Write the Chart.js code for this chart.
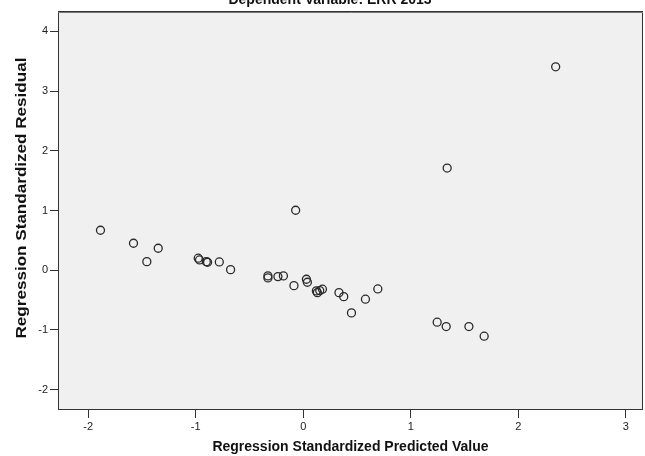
<!DOCTYPE html>
<html>
<head>
<meta charset="utf-8">
<script src="https://cdn.jsdelivr.net/npm/chart.js@4.4.1/dist/chart.umd.min.js"></script>
<style>
  html, body { margin: 0; padding: 0; background: #fff; }
  #wrap { width: 645px; height: 456px; }
</style>
</head>
<body>
<div id="wrap"><canvas id="c" width="645" height="456"></canvas></div>
<script>
// データ（読み取り値）
const predicted = [-1.885, -1.578, -1.348, -1.454, -0.976, -0.964, -0.901, -0.889, -0.780, -0.675,
                   -0.328, -0.328, -0.235, -0.184, -0.070, -0.086, 0.030, 0.039, 0.123, 0.132,
                   0.154, 0.179, 0.333, 0.377, 0.579, 0.694, 0.449, 1.246, 1.330, 1.541,
                   1.683, 2.348, 1.339];
const residual  = [0.669, 0.452, 0.368, 0.144, 0.201, 0.172, 0.144, 0.134, 0.139, 0.010,
                   -0.095, -0.129, -0.107, -0.095, 1.004, -0.258, -0.151, -0.201, -0.346, -0.375,
                   -0.341, -0.318, -0.375, -0.442, -0.485, -0.313, -0.714, -0.870, -0.943, -0.943,
                   -1.104, 3.406, 1.711];
const xTicks = [-2, -1, 0, 1, 2, 3];
const yTicks = [-2, -1, 0, 1, 2, 3, 4];

const chartTitle = "Dependent Variable: ERR 2013";
const xTitle = "Regression Standardized Predicted Value";
const yTitle = "Regression Standardized Residual";

const FONT = "'Liberation Sans', Arial, sans-serif";

// 背景・枠・タイトル描画
const framePlugin = {
  id: "frame",
  beforeDraw(chart) {
    const { ctx, chartArea: a } = chart;
    ctx.save();
    ctx.fillStyle = "#f0f0f0";
    ctx.fillRect(a.left, a.top, a.right - a.left, a.bottom - a.top);
    ctx.restore();
  },
  afterDraw(chart) {
    const { ctx, chartArea: a } = chart;
    ctx.save();
    ctx.strokeStyle = "#333";
    ctx.lineWidth = 1;
    ctx.strokeRect(a.left + 0.5, a.top + 0.5, a.right - a.left - 1, a.bottom - a.top - 1);
    ctx.beginPath();
    ctx.moveTo(a.left, a.top + 1.5);
    ctx.lineTo(a.right, a.top + 1.5);
    ctx.strokeStyle = "#777";
    ctx.stroke();

    ctx.fillStyle = "#111";
    ctx.font = "bold 14px " + FONT;
    ctx.textAlign = "center";
    ctx.textBaseline = "alphabetic";
    ctx.fillText(chartTitle, 330, 4);
    ctx.fillText(xTitle, (a.left + a.right) / 2, 451);

    // 縦軸タイトル（元画像は縦に引き伸ばされている）
    ctx.translate(22, 198);
    ctx.rotate(-Math.PI / 2);
    ctx.scale(1.22, 1);
    ctx.textBaseline = "middle";
    ctx.fillText(yTitle, 0, 0);
    ctx.restore();
  }
};

const points = predicted.map((x, i) => ({ x, y: residual[i] }));

new Chart(document.getElementById("c"), {
  type: "scatter",
  data: {
    datasets: [{
      data: points,
      pointRadius: 4,
      pointHoverRadius: 4,
      pointBorderWidth: 1.3,
      pointBorderColor: "#2a2a2a",
      pointBackgroundColor: "rgba(0,0,0,0)"
    }]
  },
  options: {
    responsive: false,
    animation: false,
    // 点の大きさぶんの自動余白を切る
    layout: { autoPadding: false, padding: { top: 11, right: 2, left: 0, bottom: 0 } },
    plugins: { legend: { display: false }, tooltip: { enabled: false } },
    scales: {
      x: {
        type: "linear",
        min: -2.28,
        max: 3.16,
        afterBuildTicks: s => { s.ticks = xTicks.map(v => ({ value: v })); },
        afterFit: s => { s.height = 46; },
        grid: { drawOnChartArea: false, tickLength: 8, color: "#333" },
        border: { display: false },
        ticks: { color: "#222", font: { size: 11, family: FONT }, padding: 2 }
      },
      y: {
        type: "linear",
        min: -2.34,
        max: 4.34,
        afterBuildTicks: s => { s.ticks = yTicks.map(v => ({ value: v })); },
        afterFit: s => { s.width = 58; },
        grid: { drawOnChartArea: false, tickLength: 8, color: "#333" },
        border: { display: false },
        ticks: { color: "#222", font: { size: 11, family: FONT }, padding: 2 }
      }
    }
  },
  plugins: [framePlugin]
});
</script>
</body>
</html>
